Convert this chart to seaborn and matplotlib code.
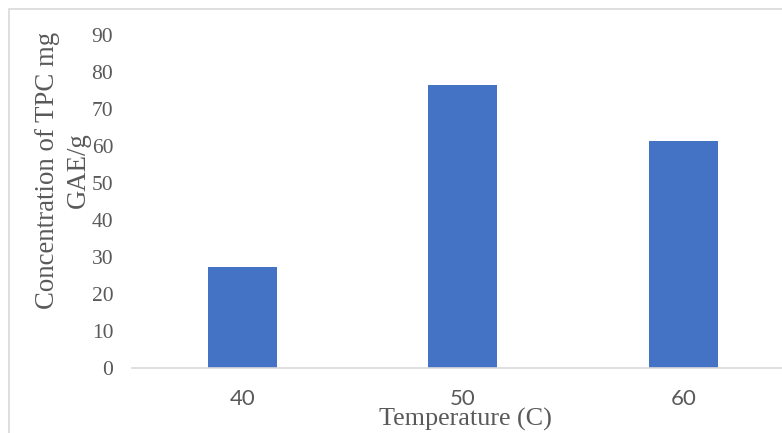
import matplotlib
matplotlib.use("Agg")
import matplotlib.pyplot as plt
import seaborn as sns
import pandas as pd
from matplotlib.patches import Rectangle

categories = ["40", "50", "60"]
values = [27.2, 76.4, 61.2]
yticks = [0, 10, 20, 30, 40, 50, 60, 70, 80, 90]

sns.set_theme(style="white")
W, H = 782, 433
fig = plt.figure(figsize=(W / 100, H / 100), dpi=100)
fig.patch.set_facecolor("white")

left, right = 132.0, 793.5
y0, y90 = 368.3, 34.6
ax = fig.add_axes([left / W, (H - y0) / H, (right - left) / W, (y0 - y90) / H])

df = pd.DataFrame({"Temperature": categories, "TPC": values})
sns.barplot(data=df, x="Temperature", y="TPC", ax=ax, color="#4472C4",
            saturation=1, width=0.313, edgecolor="none", errorbar=None)

ax.set_xlim(-0.5, 2.5)
ax.set_ylim(0, 90)
ax.set_yticks(yticks)
ax.set_yticklabels([str(t) for t in yticks], fontfamily="Liberation Serif",
                   fontsize=15.5, color="#595959")
for lab in ax.get_xticklabels():
    lab.set_fontfamily("Lato")
    lab.set_fontsize(16)
    lab.set_color("#595959")
ax.tick_params(axis="y", length=0, pad=13.5)
ax.tick_params(axis="x", length=0, pad=15)
ax.set_xlabel("")
ax.set_ylabel("")
for s in ["left", "top", "right"]:
    ax.spines[s].set_visible(False)
ax.spines["bottom"].set_color("#D9D9D9")
ax.spines["bottom"].set_linewidth(1.2)
ax.set_facecolor("none")
ax.grid(False)

fig.text(465 / W, 1 - 419 / H, "Temperature (C)", fontfamily="Liberation Serif",
         fontsize=18.8, color="#595959", ha="center", va="center")
fig.text(63 / W, 1 - 170 / H, "Concentration of TPC mg\nGAE/g",
         fontfamily="Liberation Serif", fontsize=19.3, color="#595959",
         ha="center", va="center", rotation=90, multialignment="center",
         linespacing=1.3)

fig.add_artist(Rectangle((8.5 / W, -0.1), 1.2, 1 - 9.5 / H + 0.1,
                         transform=fig.transFigure, fill=False,
                         edgecolor="#D9D9D9", linewidth=1.2))

fig.savefig("out.png", dpi=100, facecolor="white")
